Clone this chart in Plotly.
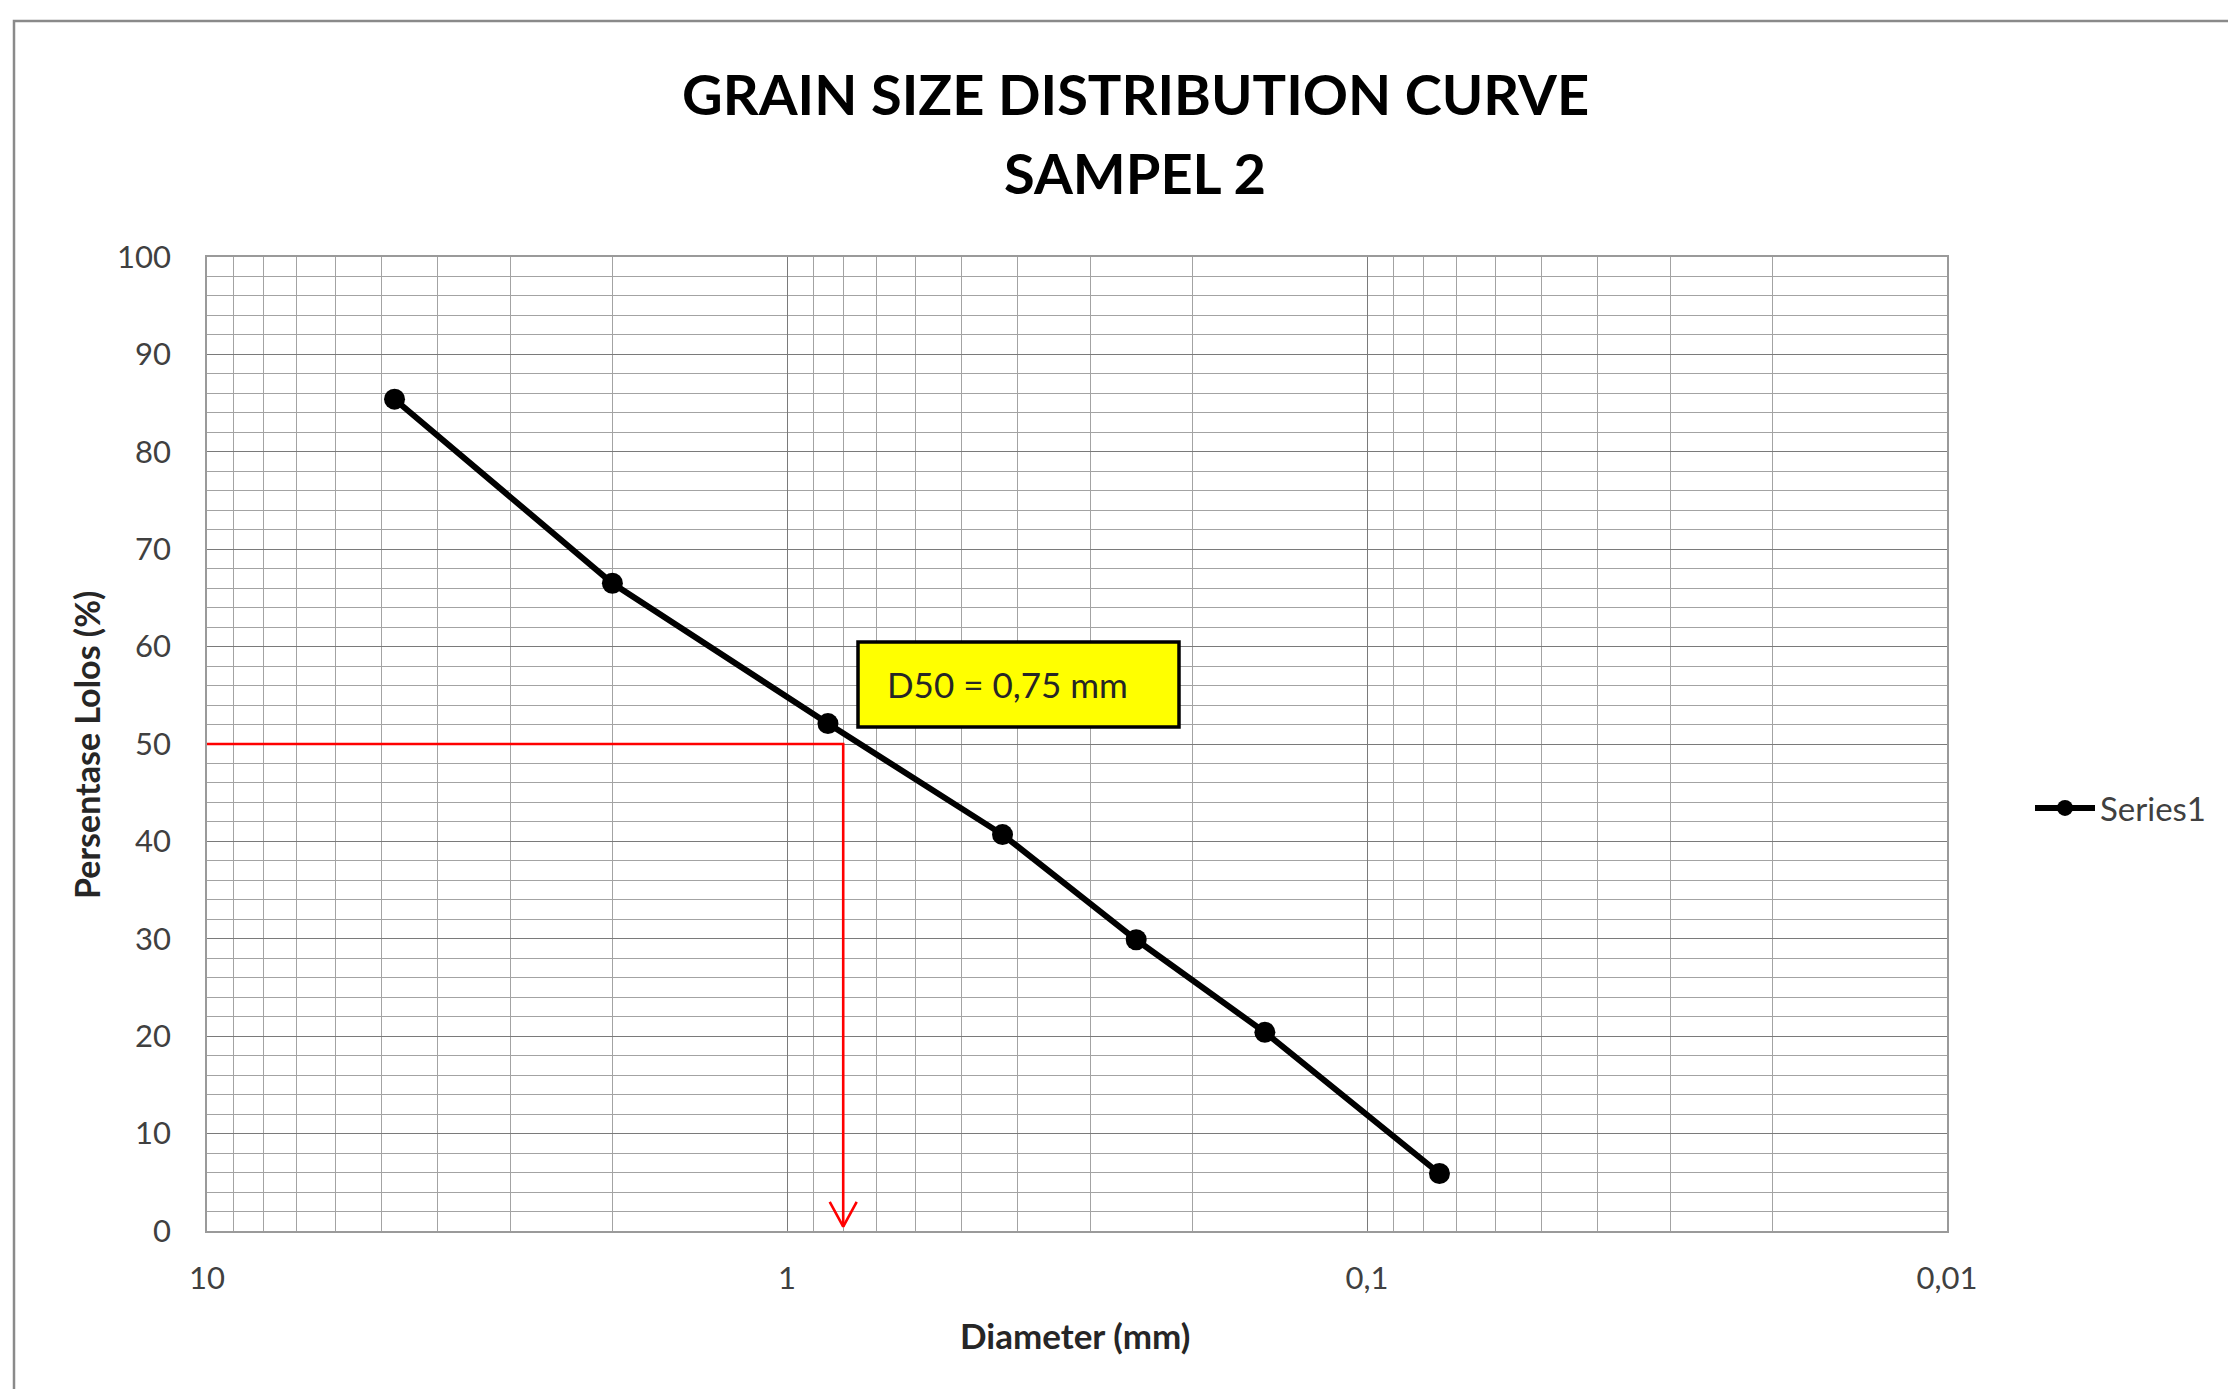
import plotly.graph_objects as go

# ---- data ----
diameter_mm = [4.75, 2.0, 0.85, 0.425, 0.25, 0.15, 0.075]
percent_passing = [85.4, 66.5, 52.1, 40.7, 29.9, 20.4, 5.9]
series_name = "Series1"

d50_level = 50
d50_line_x = 0.8          # where the red guide line drops
d50_label = "D50 = 0,75 mm"

x_tick_vals = [10, 1, 0.1, 0.01]
x_tick_text = ["10", "1", "0,1", "0,01"]
y_tick_vals = [0, 10, 20, 30, 40, 50, 60, 70, 80, 90, 100]

title_line1 = "GRAIN SIZE DISTRIBUTION CURVE"
title_line2 = "SAMPEL 2"
x_title = "Diameter (mm)"
y_title = "Persentase Lolos (%)"

# ---- layout geometry (page pixel coordinates; page body has an 8px offset) ----
OFF = 8
W, H = 2236, 1389
PL, PR, PT, PB = 207, 1947, 257, 1231        # plot area on the page
L, R, T, B = PL - OFF, W - PR + OFF, PT - OFF, H - PB + OFF
PW, PH = PR - PL, PB - PT


def px(x):
    return (x - PL) / PW


def py(y):
    return (PB - y) / PH


FONT = "Lato, 'Open Sans', sans-serif"

minor_x = [m * 10 ** e for e in (-2, -1, 0) for m in range(2, 10)]

fig = go.Figure()

# red D50 guide
fig.add_trace(go.Scatter(
    x=[x_tick_vals[0], d50_line_x, d50_line_x], y=[d50_level, d50_level, 0.45],
    mode="lines", line=dict(color="#ff0000", width=2.6),
    showlegend=False, hoverinfo="skip"))
fig.add_trace(go.Scatter(
    x=[d50_line_x * 1.055, d50_line_x, d50_line_x / 1.055], y=[3.0, 0.45, 3.0],
    mode="lines", line=dict(color="#ff0000", width=2.6),
    showlegend=False, hoverinfo="skip"))

# main series
fig.add_trace(go.Scatter(
    x=diameter_mm, y=percent_passing, name=series_name,
    mode="lines+markers",
    line=dict(color="#000000", width=6),
    marker=dict(color="#000000", size=21, symbol="circle")))

fig.update_xaxes(
    type="log", range=[1, -2],
    tickvals=x_tick_vals, ticktext=x_tick_text,
    showgrid=True, gridcolor="#7a7a7a", gridwidth=1.4,
    minor=dict(tickvals=minor_x, showgrid=True, gridcolor="#a3a3a3", gridwidth=1.1),
    showline=True, linecolor="#9a9a9a", linewidth=1.6, mirror=True,
    ticks="outside", ticklen=0, ticklabelstandoff=19,
    tickfont=dict(family=FONT, size=31, color="#404040"),
    zeroline=False)

fig.update_yaxes(
    range=[0, 100], tickvals=y_tick_vals,
    showgrid=True, gridcolor="#7a7a7a", gridwidth=1.4,
    minor=dict(dtick=2, showgrid=True, gridcolor="#a3a3a3", gridwidth=1.1),
    showline=True, linecolor="#9a9a9a", linewidth=1.6, mirror=True,
    ticks="outside", ticklen=0, ticklabelstandoff=28,
    tickfont=dict(family=FONT, size=31, color="#404040"),
    zeroline=False)

shapes = [
    # outer chart frame (cropped on right/bottom in the reference)
    dict(type="rect", xref="paper", yref="paper",
         x0=px(14), x1=px(W + 60), y0=py(H + 60), y1=py(21),
         line=dict(color="#8a8a8a", width=2.5), fillcolor="rgba(0,0,0,0)", layer="below"),
    # D50 label box
    dict(type="rect", xref="paper", yref="paper",
         x0=px(858), x1=px(1179), y0=py(727), y1=py(642),
         line=dict(color="#000000", width=3.5), fillcolor="#ffff00", layer="above"),
]

annotations = [
    dict(text="<b>" + title_line1 + "</b>", xref="paper", yref="paper",
         x=px(1135), y=py(94), xanchor="center", yanchor="middle", showarrow=False,
         font=dict(family=FONT, size=56, color="#000000")),
    dict(text="<b>" + title_line2 + "</b>", xref="paper", yref="paper",
         x=px(1135), y=py(173), xanchor="center", yanchor="middle", showarrow=False,
         font=dict(family=FONT, size=56, color="#000000")),
    dict(text=d50_label, xref="paper", yref="paper", x=px(885), y=py(684),
         xanchor="left", yanchor="middle", showarrow=False,
         font=dict(family=FONT, size=35, color="#262626")),
    dict(text="<b>" + x_title + "</b>", xref="paper", yref="paper",
         x=px(1075), y=py(1335), xanchor="center", yanchor="middle", showarrow=False,
         font=dict(family=FONT, size=35, color="#262626")),
    dict(text="<b>" + y_title + "</b>", xref="paper", yref="paper",
         x=px(86), y=py(745), xanchor="center", yanchor="middle", showarrow=False,
         textangle=-90, font=dict(family=FONT, size=34, color="#262626")),
]

fig.update_layout(
    width=W, height=H,
    margin=dict(l=L, r=R, t=T, b=B, pad=0),
    paper_bgcolor="#ffffff", plot_bgcolor="#ffffff",
    showlegend=True,
    legend=dict(x=px(2030), y=py(808), xanchor="left", yanchor="middle",
                bgcolor="rgba(0,0,0,0)", itemwidth=60,
                font=dict(family=FONT, size=33, color="#404040")),
    shapes=shapes, annotations=annotations,
)

fig.write_html("out.html")
